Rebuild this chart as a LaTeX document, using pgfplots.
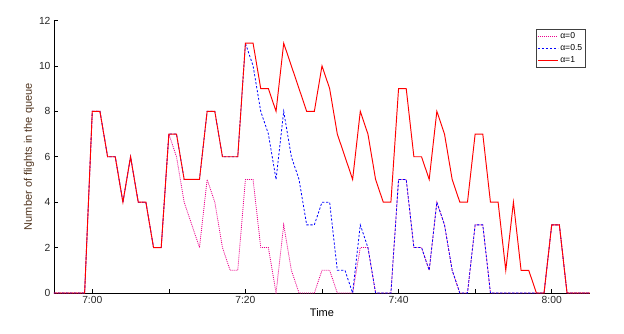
\documentclass[border=0pt]{standalone}
\usepackage{fontspec}
\setmainfont{Liberation Sans}
\usepackage{pgfplots}
\usepackage{pgfplotstable}
\pgfplotsset{compat=1.18}
\definecolor{labelbrown}{RGB}{80,52,30}

% minutes after 7:00, queue length for alpha = 0, 0.5, 1
\pgfplotstableread{
m   a0  a05 a1
-5  0   0   0
-4  0   0   0
-3  0   0   0
-2  0   0   0
-1  0   0   0
0   8   8   8
1   8   8   8
2   6   6   6
3   6   6   6
4   4   4   4
5   6   6   6
6   4   4   4
7   4   4   4
8   2   2   2
9   2   2   2
10  7   7   7
11  6   7   7
12  4   5   5
13  3   5   5
14  2   5   5
15  5   8   8
16  4   8   8
17  2   6   6
18  1   6   6
19  1   6   6
20  5   11  11
21  5   10  11
22  2   8   9
23  2   7   9
24  0   5   8
25  3   8   11
26  1   6   10
27  0   5   9
28  0   3   8
29  0   3   8
30  1   4   10
31  1   4   9
32  0   1   7
33  0   1   6
34  0   0   5
35  2   3   8
36  2   2   7
37  0   0   5
38  0   0   4
39  0   0   4
40  5   5   9
41  5   5   9
42  2   2   6
43  2   2   6
44  1   1   5
45  4   4   8
46  3   3   7
47  1   1   5
48  0   0   4
49  0   0   4
50  3   3   7
51  3   3   7
52  0   0   4
53  0   0   4
54  0   0   1
55  0   0   4
56  0   0   1
57  0   0   1
58  0   0   0
59  0   0   0
60  3   3   3
61  3   3   3
62  0   0   0
63  0   0   0
64  0   0   0
65  0   0   0
}\queue

\begin{document}
\begin{tikzpicture}
\path[use as bounding box] (-54pt,-40pt) rectangle (570pt,293pt);
\begin{axis}[
    at={(0pt,0pt)}, anchor=south west,
    scale only axis,
    width=536pt, height=272.5pt,
    xmin=-5, xmax=65, ymin=0, ymax=12,
    axis x line=bottom, axis y line=left,
    axis line style={-, black, line width=0.6pt},
    xtick={0,10,...,60},
    xticklabels={7:00,,7:20,,7:40,,8:00},
    ytick={0,2,...,12},
    tick align=inside,
    major tick length=4pt,
    tick style={black, line width=0.6pt},
    ticklabel style={font=\fontsize{10.3}{12}\selectfont, text=black!85},
    /pgf/number format/assume math mode=true,
    xlabel={Time},
    ylabel={Number of flights in the queue},
    label style={font=\fontsize{11}{13}\selectfont},
    xlabel style={yshift=2pt},
    ylabel style={text=labelbrown, yshift=-2pt},
    legend style={at={(0.9925,0.969)}, anchor=north east,
        draw=black!75, line width=0.5pt, inner sep=1.5pt,
        font=\fontsize{8.6}{10}\selectfont, row sep=0.5pt},
    legend cell align=left,
    legend image code/.code={\draw[#1] (0pt,0pt) -- (20pt,0pt);},
]
\addplot[color=magenta, draw=magenta, line width=0.8pt, dash pattern=on 1pt off 1pt] table[x=m, y=a0] {\queue};
\addplot[color=blue, draw=blue, line width=0.8pt, dash pattern=on 2.2pt off 1.8pt] table[x=m, y=a05] {\queue};
\addplot[color=red, draw=red, line width=0.95pt] table[x=m, y=a1] {\queue};
\legend{α=0, α=0.5, α=1}
\end{axis}
\end{tikzpicture}
\end{document}
